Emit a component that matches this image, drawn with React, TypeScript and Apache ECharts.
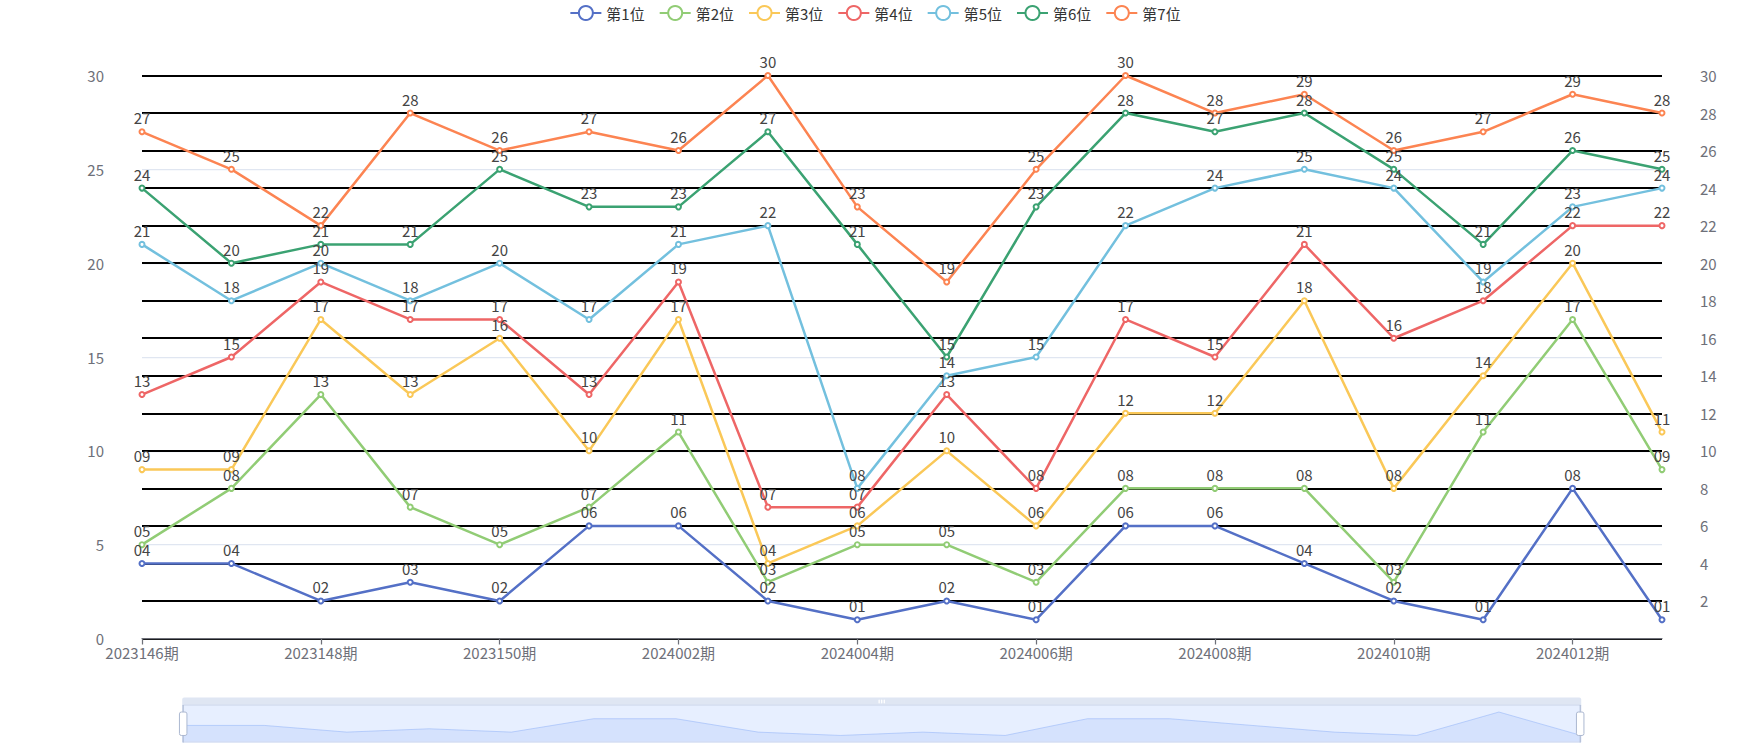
import React, { useEffect, useRef } from "react";
import * as echarts from "echarts";

const categories = [
  "2023146期", "2023147期", "2023148期", "2023149期", "2023150期", "2024001期",
  "2024002期", "2024003期", "2024004期", "2024005期", "2024006期", "2024007期",
  "2024008期", "2024009期", "2024010期", "2024011期", "2024012期", "2024013期",
];

const seriesNames = ["第1位", "第2位", "第3位", "第4位", "第5位", "第6位", "第7位"];

const pos1 = [4, 4, 2, 3, 2, 6, 6, 2, 1, 2, 1, 6, 6, 4, 2, 1, 8, 1];
const pos2 = [5, 8, 13, 7, 5, 7, 11, 3, 5, 5, 3, 8, 8, 8, 3, 11, 17, 9];
const pos3 = [9, 9, 17, 13, 16, 10, 17, 4, 6, 10, 6, 12, 12, 18, 8, 14, 20, 11];
const pos4 = [13, 15, 19, 17, 17, 13, 19, 7, 7, 13, 8, 17, 15, 21, 16, 18, 22, 22];
const pos5 = [21, 18, 20, 18, 20, 17, 21, 22, 8, 14, 15, 22, 24, 25, 24, 19, 23, 24];
const pos6 = [24, 20, 21, 21, 25, 23, 23, 27, 21, 15, 23, 28, 27, 28, 25, 21, 26, 25];
const pos7 = [27, 25, 22, 28, 26, 27, 26, 30, 23, 19, 25, 30, 28, 29, 26, 27, 29, 28];

const allSeries = [pos1, pos2, pos3, pos4, pos5, pos6, pos7];

const colors = ["#5470c6", "#91cc75", "#fac858", "#ee6666", "#73c0de", "#3ba272", "#fc8452"];

const FONT = "'Noto Sans CJK SC', 'Microsoft YaHei', sans-serif";

export default function App() {
  const ref = useRef<HTMLDivElement>(null);

  useEffect(() => {
    document.body.style.margin = "0";
    if (!ref.current) return;
    const chart = echarts.init(ref.current, null, { renderer: "svg" });
    const option: any = {
      animation: false,
      color: colors,
      backgroundColor: "#fff",
      textStyle: { fontFamily: FONT, fontSize: 15 },
      legend: {
        top: 0,
        left: "center",
        itemWidth: 31,
        itemHeight: 17.5,
        itemGap: 14,
        textStyle: { color: "#333", fontSize: 15, fontFamily: FONT },
        data: seriesNames,
      },
      grid: { left: 142, right: 88, top: 75.5, bottom: 111.5 },
      xAxis: {
        type: "category",
        boundaryGap: false,
        data: categories,
        axisLine: { show: true, lineStyle: { color: "#6E7079", width: 1.25 } },
        axisTick: { show: true, length: 6, lineStyle: { color: "#6E7079", width: 1.25 } },
        axisLabel: { color: "#6E7079", fontSize: 15, fontFamily: FONT, interval: 1, margin: 6 },
        splitLine: { show: false },
      },
      yAxis: [
        {
          type: "value",
          min: 0,
          max: 30,
          interval: 5,
          position: "left",
          axisLine: { show: false },
          axisTick: { show: false },
          axisLabel: { color: "#6E7079", fontSize: 15, fontFamily: FONT, margin: 38 },
          splitLine: { show: true, lineStyle: { color: "#E0E6F1", width: 1.25 } },
        },
        {
          type: "value",
          min: 0,
          max: 30,
          interval: 2,
          position: "right",
          axisLine: { show: false },
          axisTick: { show: false },
          axisLabel: {
            color: "#6E7079",
            fontSize: 15,
            fontFamily: FONT,
            margin: 38,
            formatter: (v: number) => (v === 0 ? "" : String(v)),
          },
          splitLine: { show: true, lineStyle: { color: "#000", width: 1.8 } },
        },
      ],
      dataZoom: [
        {
          type: "slider",
          show: true,
          xAxisIndex: 0,
          start: 0,
          end: 100,
          left: 179,
          right: 172,
          bottom: 15,
          height: 37.5,
          moveHandleSize: 8,
          brushSelect: true,
          backgroundColor: "rgba(47,69,84,0)",
          borderColor: "#d2dbee",
          fillerColor: "rgba(135,175,274,0.2)",
          dataBackground: {
            lineStyle: { color: "#d2dbee", width: 0.5 },
            areaStyle: { color: "#d2dbee", opacity: 0.2 },
          },
          selectedDataBackground: {
            lineStyle: { color: "#8fb0f7", width: 0.5 },
            areaStyle: { color: "#8fb0f7", opacity: 0.2 },
          },
          handleIcon:
            "path://M-9.35,34.56V42m0-40V9.5m-2,0h4a2,2,0,0,1,2,2v21a2,2,0,0,1-2,2h-4a2,2,0,0,1-2-2v-21A2,2,0,0,1-11.35,9.5Z",
          handleSize: "100%",
          handleStyle: { color: "#fff", borderColor: "#ACB8D1" },
          moveHandleStyle: { color: "#D2DBEE", opacity: 0.7 },
          showDetail: false,
          textStyle: { color: "#6E7079", fontSize: 15 },
        },
      ],
      series: allSeries.map((values, i) => ({
        name: seriesNames[i],
        type: "line",
        yAxisIndex: 0,
        data: values,
        symbol: "emptyCircle",
        symbolSize: 5,
        lineStyle: { width: 2.5, color: colors[i] },
        itemStyle: { color: colors[i], borderWidth: 2.5 },
        label: {
          show: true,
          position: "top",
          distance: 3,
          color: "#444",
          fontSize: 15,
          fontFamily: FONT,
          formatter: (p: any) => String(p.value).padStart(2, "0"),
        },
      })),
    };
    chart.setOption(option);
    return () => chart.dispose();
  }, []);

  return <div ref={ref} style={{ width: 1750, height: 750 }} />;
}
